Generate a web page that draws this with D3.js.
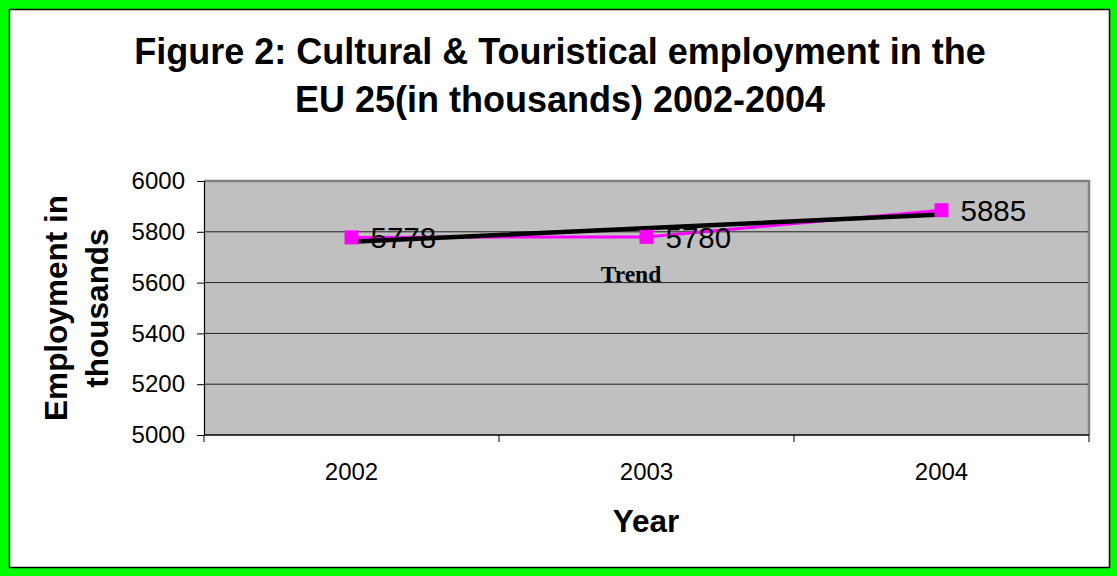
<!DOCTYPE html>
<html>
<head>
<meta charset="utf-8">
<script src="https://cdn.jsdelivr.net/npm/d3@7"></script>
<style>
  html, body { margin: 0; padding: 0; background: #00ff00; }
  svg { display: block; }
</style>
</head>
<body>
<svg id="chart" width="1117" height="576"></svg>
<script>
// Employment in cultural & tourism sectors, EU 25 (thousands)
const years = ["2002", "2003", "2004"];
const employment = [5778, 5780, 5885];
const yTicks = [5000, 5200, 5400, 5600, 5800, 6000];
const titleLines = ["Figure 2: Cultural & Touristical employment in the", "EU 25(in thousands) 2002-2004"];
const yTitleLines = ["Employment in", "thousands"];

const W = 1117, H = 576;
const plot = { left: 204, right: 1089, top: 181, bottom: 435 };
const SANS = "Liberation Sans, Arial, sans-serif";

const svg = d3.select("#chart");

// green frame with white chart area and thin black border
svg.append("rect").attr("x", 0).attr("y", 0).attr("width", W).attr("height", H).attr("fill", "#00ff00");
svg.append("rect").attr("x", 9.5).attr("y", 9.5).attr("width", 1100).attr("height", 558)
  .attr("fill", "#ffffff").attr("stroke", "#000").attr("stroke-width", 1.5);

const x = d3.scaleBand().domain(years).range([plot.left, plot.right]).padding(0);
const y = d3.scaleLinear().domain([5000, 6000]).range([plot.bottom, plot.top]);

// plot background
svg.append("rect")
  .attr("x", plot.left).attr("y", plot.top)
  .attr("width", plot.right - plot.left).attr("height", plot.bottom - plot.top)
  .attr("fill", "#c0c0c0");

// horizontal gridlines
svg.append("g").selectAll("line")
  .data(yTicks.filter(d => d > 5000 && d < 6000))
  .join("line")
  .attr("x1", plot.left).attr("x2", plot.right)
  .attr("y1", d => y(d)).attr("y2", d => y(d))
  .attr("stroke", "#222").attr("stroke-width", 1);

// plot border: grey top/right
svg.append("path")
  .attr("d", `M${plot.left},${plot.top}H${plot.right}V${plot.bottom}`)
  .attr("fill", "none").attr("stroke", "#808080").attr("stroke-width", 2.5);

// y axis
const yAxis = d3.axisLeft(y).tickValues(yTicks).tickSize(7).tickPadding(12).tickFormat(d3.format("d"));
const gy = svg.append("g").attr("transform", `translate(${plot.left},0)`).call(yAxis);
gy.select(".domain").attr("stroke", "#000").attr("stroke-width", 1.2);
gy.selectAll(".tick line").attr("stroke", "#000");
gy.selectAll(".tick text").attr("font-family", SANS)
  .attr("font-size", 24).attr("fill", "#000");

// x axis: ticks at category boundaries, labels at centres
const gx = svg.append("g").attr("transform", `translate(0,${plot.bottom})`);
gx.append("line").attr("x1", plot.left).attr("x2", plot.right).attr("y1", 0).attr("y2", 0)
  .attr("stroke", "#000").attr("stroke-width", 1.5);
const bounds = years.map(d => x(d)).concat([x(years[years.length - 1]) + x.bandwidth()]);
gx.selectAll("line.tk").data(bounds).join("line").attr("class", "tk")
  .attr("x1", d => d).attr("x2", d => d).attr("y1", 0).attr("y2", 7)
  .attr("stroke", "#000");
gx.selectAll("text").data(years).join("text")
  .attr("x", d => x(d) + x.bandwidth() / 2).attr("y", 45)
  .attr("text-anchor", "middle")
  .attr("font-family", SANS).attr("font-size", 24)
  .text(d => d);

const cx = d => x(d) + x.bandwidth() / 2;

// data series line
const pts = years.map((d, i) => ({ year: d, value: employment[i] }));
svg.append("path")
  .datum(pts)
  .attr("d", d3.line().x(d => cx(d.year)).y(d => y(d.value)))
  .attr("fill", "none").attr("stroke", "#ff00ff").attr("stroke-width", 3);

// linear trend (least squares over category index)
const n = employment.length;
const xs = d3.range(n);
const mx = d3.mean(xs), my = d3.mean(employment);
const slope = d3.sum(xs, (xi, i) => (xi - mx) * (employment[i] - my)) / d3.sum(xs, xi => (xi - mx) ** 2);
const intercept = my - slope * mx;
const trend = years.map((d, i) => ({ year: d, value: intercept + slope * i }));
svg.append("path")
  .datum([trend[0], trend[n - 1]])
  .attr("d", d3.line().x(d => cx(d.year)).y(d => y(d.value)))
  .attr("fill", "none").attr("stroke", "#000").attr("stroke-width", 4.5).attr("stroke-linecap", "round");

// square markers
svg.append("g").selectAll("rect").data(pts).join("rect")
  .attr("x", d => cx(d.year) - 7).attr("y", d => y(d.value) - 7)
  .attr("width", 14).attr("height", 14).attr("fill", "#ff00ff");

// value labels
svg.append("g").selectAll("text").data(pts).join("text")
  .attr("x", d => cx(d.year) + 19).attr("y", d => y(d.value) + 11)
  .attr("font-family", SANS).attr("font-size", 29.5)
  .attr("fill", "#000")
  .text(d => d.value);

// trend label
svg.append("text")
  .attr("x", 631).attr("y", 282).attr("text-anchor", "middle")
  .attr("font-family", "Liberation Serif, Times New Roman, serif").attr("font-weight", "bold")
  .attr("font-size", 23.5).text("Trend");

// chart title
svg.append("g").selectAll("text").data(titleLines).join("text")
  .attr("x", 560).attr("y", (d, i) => 64 + i * 48)
  .attr("text-anchor", "middle")
  .attr("font-family", SANS).attr("font-weight", "bold")
  .attr("font-size", 36).text(d => d);

// y axis title
svg.append("g").attr("transform", "translate(0,308) rotate(-90)")
  .selectAll("text").data(yTitleLines).join("text")
  .attr("x", 0).attr("y", (d, i) => 67 + i * 41)
  .attr("text-anchor", "middle")
  .attr("font-family", SANS).attr("font-weight", "bold")
  .attr("font-size", 31.5).text(d => d);

// x axis title
svg.append("text")
  .attr("x", 646).attr("y", 532).attr("text-anchor", "middle")
  .attr("font-family", SANS).attr("font-weight", "bold")
  .attr("font-size", 31.5).text("Year");
</script>
</body>
</html>
